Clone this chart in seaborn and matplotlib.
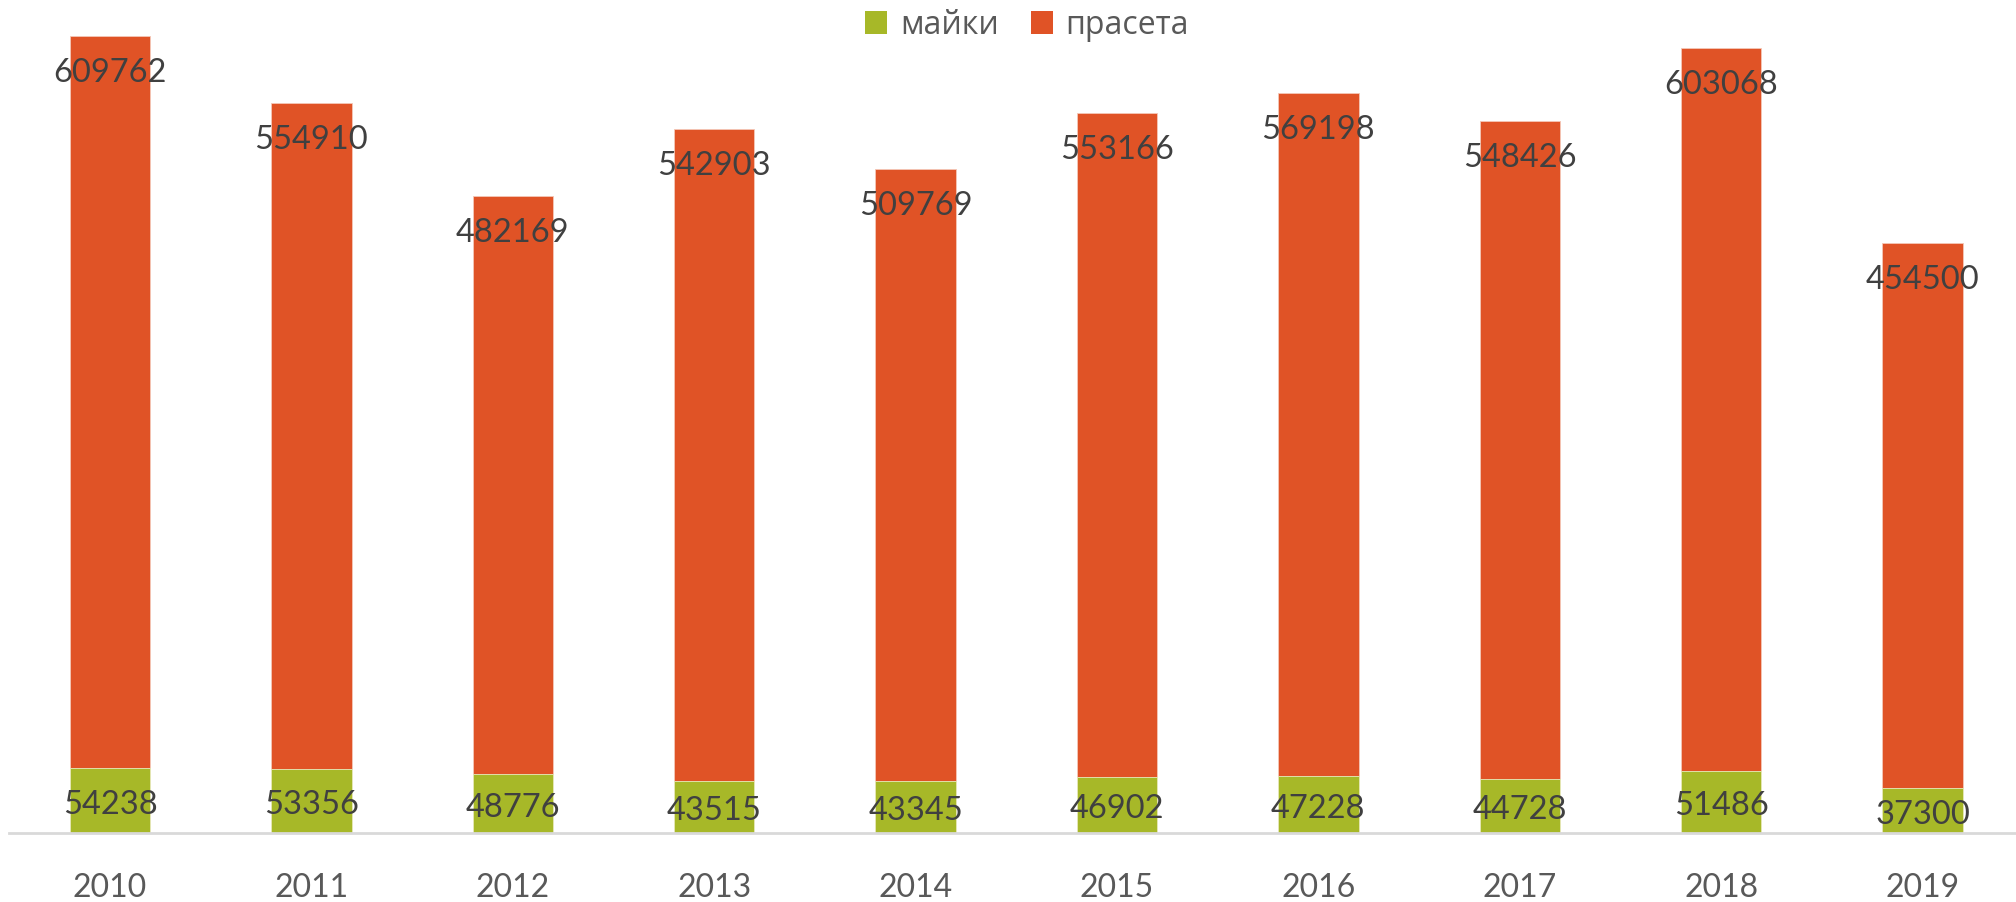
import matplotlib
matplotlib.use("Agg")
import matplotlib.pyplot as plt
import seaborn as sns
import pandas as pd
import numpy as np

years = ["2010", "2011", "2012", "2013", "2014", "2015", "2016", "2017", "2018", "2019"]
maiki = [54238, 53356, 48776, 43515, 43345, 46902, 47228, 44728, 51486, 37300]
praseta = [609762, 554910, 482169, 542903, 509769, 553166, 569198, 548426, 603068, 454500]
series_names = ["майки", "прасета"]

GREEN = "#A7B828"
ORANGE = "#E05326"

sns.set_theme(style="white")
plt.rcParams["font.family"] = ["Lato", "DejaVu Sans"]

df = pd.DataFrame({"year": years, "maiki": maiki, "praseta": praseta})
df["total"] = df["maiki"] + df["praseta"]

W, H = 2016, 902
fig = plt.figure(figsize=(W / 100, H / 100), dpi=100)
left_px = 9.3
spacing = 201.4
base_px = 833
ax = fig.add_axes([left_px / W, 1 - base_px / H, 1 - left_px / W, base_px / H])

sns.barplot(data=df, x="year", y="total", color=ORANGE, saturation=1, width=0.4,
            edgecolor="#F4C8B8", linewidth=0.6, ax=ax)
sns.barplot(data=df, x="year", y="maiki", color=GREEN, saturation=1, width=0.4,
            edgecolor="#E8EEC0", linewidth=0.6, ax=ax)

ax.set_xlim(-0.5, -0.5 + (W - left_px) / spacing)
ax.set_ylim(0, base_px * 833.3)

for i in range(len(years)):
    ax.annotate(f"{praseta[i]}", xy=(i, df["total"][i]), xytext=(0, -16),
                textcoords="offset points", ha="center", va="top",
                fontsize=23.5, color="#404040")
    ax.annotate(f"{maiki[i]}", xy=(i, maiki[i] / 2), xytext=(0, -3),
                textcoords="offset points", ha="center", va="center",
                fontsize=23.5, color="#404040")

for s in ["top", "right", "left"]:
    ax.spines[s].set_visible(False)
ax.spines["bottom"].set_color("#D9D9D9")
ax.spines["bottom"].set_linewidth(2)
ax.set_yticks([])
ax.set_xlabel("")
ax.set_ylabel("")
ax.tick_params(axis="x", length=0, pad=29, labelsize=23, labelcolor="#595959")

from matplotlib.patches import Patch
handles = [Patch(facecolor=GREEN, edgecolor="none"), Patch(facecolor=ORANGE, edgecolor="none")]
leg = fig.legend(handles, series_names, loc="center", bbox_to_anchor=(1027 / W, 1 - 25 / H),
                 ncol=2, frameon=False, handlelength=0.7, handleheight=0.7,
                 handletextpad=0.4, columnspacing=1.0,
                 prop={"family": ["Open Sans", "DejaVu Sans"], "size": 23})
for t in leg.get_texts():
    t.set_color("#595959")

fig.savefig("out.png", dpi=100)
